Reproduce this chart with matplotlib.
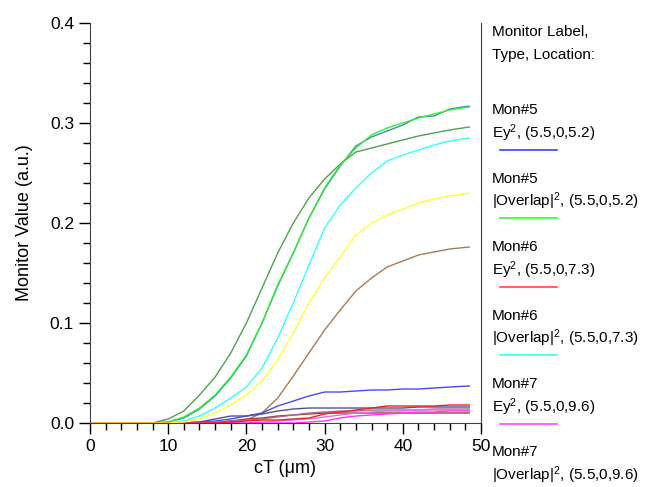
import matplotlib
matplotlib.use('Agg')
import matplotlib.pyplot as plt
from matplotlib.ticker import MultipleLocator

plt.rcParams['font.family'] = ['Liberation Sans', 'DejaVu Sans']
plt.rcParams['mathtext.fontset'] = 'custom'
plt.rcParams['mathtext.rm'] = 'Liberation Sans'
plt.rcParams['mathtext.it'] = 'Liberation Sans'

# posiciones cT (um)
ct = [0, 2, 4, 6, 8, 10, 12, 14, 16, 18, 20, 22, 24, 26, 28, 30, 32, 34, 36, 38, 40, 42, 44, 46, 48.5]

verde_oscuro = [0, 0, 0, 0, 0, 0.004, 0.012, 0.028, 0.046, 0.070, 0.100, 0.135, 0.170, 0.200, 0.225, 0.244, 0.259, 0.271, 0.275, 0.279, 0.283, 0.287, 0.290, 0.293, 0.296]
verde = [0, 0, 0, 0, 0, 0.001, 0.006, 0.015, 0.028, 0.046, 0.068, 0.100, 0.138, 0.170, 0.205, 0.235, 0.258, 0.275, 0.288, 0.295, 0.300, 0.305, 0.309, 0.313, 0.316]
verde_azul = [0, 0, 0, 0, 0, 0.001, 0.005, 0.014, 0.027, 0.045, 0.067, 0.100, 0.137, 0.170, 0.205, 0.234, 0.257, 0.277, 0.286, 0.292, 0.298, 0.306, 0.307, 0.314, 0.317]
cian = [0, 0, 0, 0, 0, 0, 0.002, 0.007, 0.015, 0.025, 0.036, 0.055, 0.085, 0.120, 0.158, 0.195, 0.218, 0.235, 0.250, 0.262, 0.268, 0.273, 0.278, 0.282, 0.285]
amarillo = [0, 0, 0, 0, 0, 0, 0.001, 0.004, 0.010, 0.018, 0.028, 0.042, 0.063, 0.090, 0.120, 0.145, 0.166, 0.188, 0.200, 0.208, 0.214, 0.220, 0.224, 0.227, 0.230]
marron = [0, 0, 0, 0, 0, 0, 0, 0, 0, 0.001, 0.003, 0.010, 0.025, 0.047, 0.070, 0.093, 0.113, 0.132, 0.145, 0.156, 0.162, 0.168, 0.171, 0.174, 0.176]
azul = [0, 0, 0, 0, 0, 0, 0, 0.001, 0.002, 0.004, 0.007, 0.010, 0.017, 0.022, 0.027, 0.031, 0.031, 0.032, 0.033, 0.033, 0.034, 0.034, 0.035, 0.036, 0.037]
azul_oscuro = [0, 0, 0, 0, 0, 0, 0, 0.001, 0.004, 0.007, 0.007, 0.009, 0.012, 0.014, 0.015, 0.015, 0.015, 0.015, 0.015, 0.015, 0.015, 0.016, 0.016, 0.016, 0.016]
rojo = [0, 0, 0, 0, 0, 0, 0, 0, 0, 0.001, 0.002, 0.003, 0.003, 0.004, 0.005, 0.009, 0.011, 0.013, 0.015, 0.017, 0.017, 0.017, 0.017, 0.018, 0.018]
rojo_oscuro = [0, 0, 0, 0, 0, 0, 0, 0, 0, 0.002, 0.004, 0.005, 0.007, 0.008, 0.009, 0.010, 0.010, 0.010, 0.010, 0.010, 0.010, 0.010, 0.010, 0.010, 0.010]
rosado = [0, 0, 0, 0, 0, 0, 0, 0, 0.001, 0.002, 0.003, 0.004, 0.006, 0.008, 0.010, 0.011, 0.012, 0.012, 0.013, 0.013, 0.013, 0.013, 0.014, 0.014, 0.014]
magenta = [0, 0, 0, 0, 0, 0, 0, 0, 0, 0, 0, 0, 0, 0, 0.001, 0.002, 0.005, 0.007, 0.008, 0.009, 0.010, 0.011, 0.011, 0.012, 0.012]
violeta = [0, 0, 0, 0, 0, 0, 0, 0, 0, 0, 0, 0.001, 0.002, 0.003, 0.004, 0.006, 0.008, 0.010, 0.011, 0.012, 0.012, 0.013, 0.013, 0.013, 0.013]

curvas = [
    (verde_oscuro, '#4ea24e'),
    (verde_azul, '#3f93a0'),
    (verde, '#33ee33'),
    (cian, '#33ffff'),
    (marron, '#a67c52'),
    (azul, '#4848ff'),
    (azul_oscuro, '#50509a'),
    (rojo_oscuro, '#a03a3a'),
    (rosado, '#b06a8a'),
    (violeta, '#e070e0'),
    (magenta, '#ff33ff'),
    (rojo, '#ee2222'),
    (amarillo, '#ffff33'),
]

etiquetas = ['Mon#5', 'Mon#5', 'Mon#6', 'Mon#6', 'Mon#7', 'Mon#7']
tipos = ['Ey$^2$, (5.5,0,5.2)', '|Overlap|$^2$, (5.5,0,5.2)',
         'Ey$^2$, (5.5,0,7.3)', '|Overlap|$^2$, (5.5,0,7.3)',
         'Ey$^2$, (5.5,0,9.6)', '|Overlap|$^2$, (5.5,0,9.6)']
colores_leyenda = ['#4040ff', '#44ee44', '#ff4444', '#33ffff', '#ff44ff', None]

fig = plt.figure(figsize=(6.46, 4.87), dpi=100)
ax = fig.add_axes([0.1393, 0.1314, 0.6053, 0.8214])

for valores, color in curvas:
    ax.plot(ct, valores, color=color, linewidth=1)

ax.set_xlim(0, 50)
ax.set_ylim(0, 0.4)
ax.xaxis.set_major_locator(MultipleLocator(10))
ax.xaxis.set_minor_locator(MultipleLocator(2))
ax.yaxis.set_major_locator(MultipleLocator(0.1))
ax.yaxis.set_minor_locator(MultipleLocator(0.02))
ax.yaxis.set_major_formatter(plt.FormatStrFormatter('%.1f'))
ax.tick_params(which='major', length=8, width=1, labelsize=12.5, direction='out')
ax.tick_params(which='minor', length=5, width=1, direction='out')
ax.spines['top'].set_visible(False)
for lado in ['left', 'bottom', 'right']:
    ax.spines[lado].set_color('#404040')

ax.set_xlabel('cT (\u03bcm)', fontsize=13)
ax.set_ylabel('Monitor Value (a.u.)', fontsize=13, labelpad=12)

# leyenda de texto a la derecha (en pixeles de la figura)
def px(x, y):
    return x / 646, 1 - y / 487

fig.text(*px(492, 32), 'Monitor Label,', fontsize=11, va='center')
fig.text(*px(492, 55), 'Type, Location:', fontsize=11, va='center')
for i in range(6):
    y0 = 110 + i * 68.5
    fig.text(*px(492, y0), etiquetas[i], fontsize=11, va='center')
    fig.text(*px(492, y0 + 23), tipos[i], fontsize=11, va='center')
    if colores_leyenda[i]:
        x1, y1 = px(500, y0 + 39.5)
        x2, _ = px(557, y0 + 39.5)
        fig.add_artist(plt.Line2D([x1, x2], [y1, y1], color=colores_leyenda[i], linewidth=1.2))

fig.savefig('out.png', dpi=100)
